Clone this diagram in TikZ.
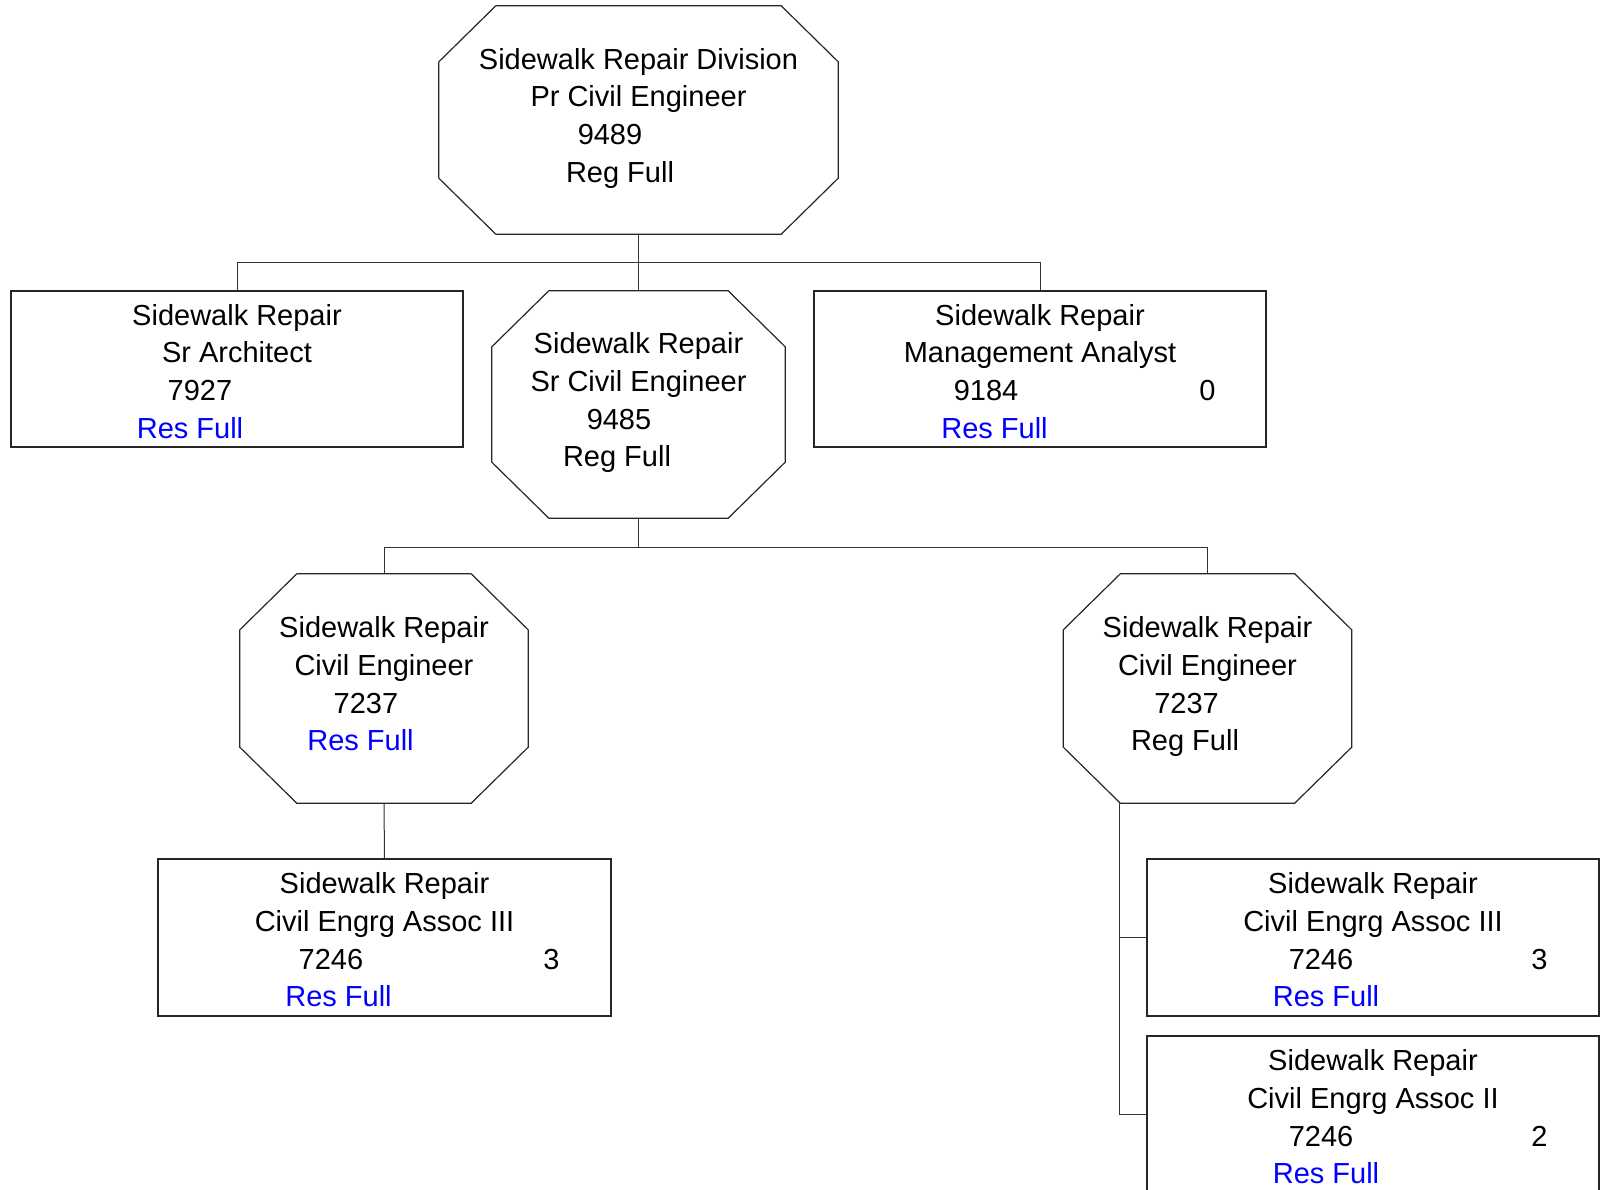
\documentclass[tikz,border=0pt]{standalone}
\usepackage{fontspec}
\setmainfont{Liberation Sans}
\usepackage{xcolor}
\usetikzlibrary{positioning,calc}

% one text item, centred dx pt off the line's centre
\newcommand\sh[2]{\makebox[0pt]{\hspace*{#1pt}\makebox[0pt]{#2}\hspace*{-#1pt}}}
\newcommand\res{{\color{blue}Res Full}}

\begin{document}
\begin{tikzpicture}[
    x=1pt, y=-1pt,
    unit/.style={draw=black!85, line width=1.2pt, inner sep=0pt},
    box/.style={unit, rectangle, minimum width=452pt, minimum height=156pt},
    octo/.style={rectangle, inner sep=0pt},
    txt/.style={font=\fontsize{29}{37.75}\selectfont, align=center, inner sep=0pt,
                execute at begin node=\strut, execute at end node=\strut},
    otxt/.style={txt, yshift=-0.8pt},
    btxt/.style={txt, yshift=-7.8pt},
    wire/.style={draw=black!80, line width=1pt},
  ]
  \path[use as bounding box] (0,0) rectangle (1608,1189);

  % Division head
  \node[octo, minimum width=399pt, minimum height=228pt] (root) at (638.5,120) {};
  \node[otxt] (root-t) at (root)
    {Sidewalk Repair Division\\ Pr Civil Engineer\\ \sh{-28.5}{9489}\\ \sh{-18.5}{Reg Full}};

  % Second row
  \node[box] (arch) at (237,369) {};
  \node[btxt] (arch-t) at (arch)
    {Sidewalk Repair\\ Sr Architect\\ \sh{-37}{7927}\\ \sh{-47}{\res}};

  \node[octo, minimum width=293pt, minimum height=227pt] (sce) at (638.5,404.5) {};
  \node[otxt] (sce-t) at (sce)
    {Sidewalk Repair\\ Sr Civil Engineer\\ \sh{-19.5}{9485}\\ \sh{-21.5}{Reg Full}};

  \node[box] (mgmt) at (1040,369) {};
  \node[btxt] (mgmt-t) at (mgmt)
    {Sidewalk Repair\\ Management Analyst\\ \sh{-54}{9184}\sh{167.5}{0}\\ \sh{-45.5}{\res}};

  \coordinate (bus1) at (638.5,262);
  \draw[wire] (root.south) -- (bus1);
  \draw[wire] (arch.north) |- (bus1);
  \draw[wire] (mgmt.north) |- (bus1);
  \draw[wire] (sce.north) -- (bus1);

  % Civil engineers
  \node[octo, minimum width=288pt, minimum height=229pt] (ceL) at (384,688.5) {};
  \node[otxt] (ceL-t) at (ceL)
    {Sidewalk Repair\\ Civil Engineer\\ \sh{-18}{7237}\\ \sh{-23.5}{\res}};

  \node[octo, minimum width=288pt, minimum height=229pt] (ceR) at (1207.5,688.5) {};
  \node[otxt] (ceR-t) at (ceR)
    {Sidewalk Repair\\ Civil Engineer\\ \sh{-21}{7237}\\ \sh{-22.5}{Reg Full}};

  \coordinate (bus2) at (638.5,547);
  \draw[wire] (sce.south) -- (bus2);
  \draw[wire] (ceL.north) |- (bus2);
  \draw[wire] (ceR.north) |- (bus2);

  % cut corners of the octagons
  \foreach \n in {root,sce,ceL,ceR}
    \draw[unit] ([xshift=57pt]\n.north west) -- ([xshift=-57pt]\n.north east)
      -- ([yshift=-56pt]\n.north east) -- ([yshift=56pt]\n.south east)
      -- ([xshift=-57pt]\n.south east) -- ([xshift=57pt]\n.south west)
      -- ([yshift=56pt]\n.south west) -- ([yshift=-56pt]\n.north west) -- cycle;

  % Associates
  \node[box, minimum width=453pt, minimum height=157pt] (assocL) at (384.5,937.5) {};
  \node[btxt] (assocL-t) at (assocL)
    {Sidewalk Repair\\ Civil Engrg Assoc III\\ \sh{-53.5}{7246}\sh{167}{3}\\ \sh{-46}{\res}};
  \draw[wire] (ceL.south) -- (assocL.north);

  \node[box, minimum height=157pt] (assocR) at (1373,937.5) {};
  \node[btxt] (assocR-t) at (assocR)
    {Sidewalk Repair\\ Civil Engrg Assoc III\\ \sh{-52}{7246}\sh{166.5}{3}\\ \sh{-47}{\res}};

  \node[box, minimum height=157pt] (assocII) at (1373,1114.5) {};
  \node[btxt] (assocII-t) at (assocII)
    {Sidewalk Repair\\ Civil Engrg Assoc II\\ \sh{-52}{7246}\sh{166.5}{2}\\ \sh{-47}{\res}};

  \coordinate (trunk) at ([xshift=-88.5pt]ceR.south);
  \draw[wire] (trunk) |- (assocR.west);
  \draw[wire] (trunk) |- (assocII.west);
\end{tikzpicture}
\end{document}
